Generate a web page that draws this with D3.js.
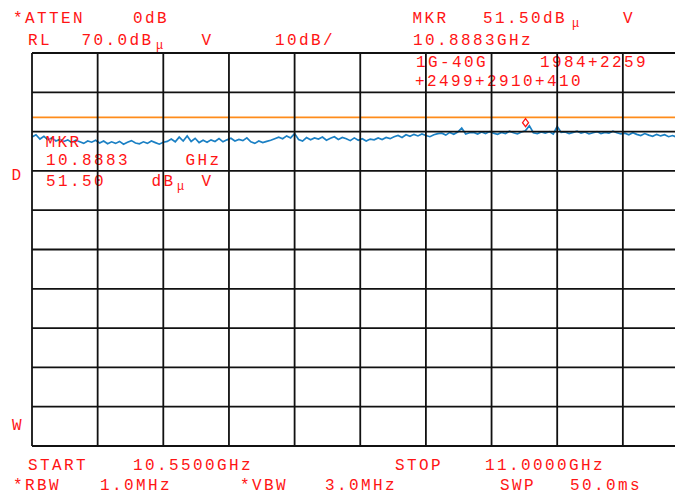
<!DOCTYPE html>
<html>
<head>
<meta charset="utf-8">
<script src="https://cdn.jsdelivr.net/npm/d3@7"></script>
<style>
  body { margin: 0; background: #fff; }
  svg text { font-family: "Liberation Mono", "DejaVu Sans Mono", monospace; font-size: 16px; letter-spacing: 2.4px; fill: #ff1414; }
</style>
</head>
<body>
<div id="chart"></div>
<script>
// sweep settings
var startGHz = 10.55;
var stopGHz = 11.0;
var refLevel = 70;      // dBuV, top of screen
var dbPerDiv = 10;
var divisions = 10;

// marker and limit line
var markerGHz = 10.8883;
var markerLevel = 51.5;
var limitLevel = 53.6;

// trace amplitude (dBuV) left to right
var trace = [
  48.6, 49.2, 48.1, 48.8, 47.9, 48.4, 47.6, 48.0, 47.5, 47.9, 47.2, 47.8, 47.4, 47.0, 47.6, 47.3, 47.8,
  47.1, 47.6, 46.9, 47.4, 47.0, 47.5, 46.8, 47.3, 47.7, 47.1, 46.9, 47.4, 47.0, 47.6, 47.2, 46.8, 47.3, 47.5,
  48.1, 47.4, 48.6, 47.6, 48.9, 47.5, 48.3, 47.2,
  47.8, 47.3, 47.9, 47.5, 48.2, 47.4, 47.9, 48.3, 47.6, 48.0, 47.7, 48.4,
  47.4, 47.0, 47.6, 47.2, 47.5, 47.8, 48.2,
  48.6, 48.2, 48.9, 48.4, 49.5, 48.0,
  47.6, 48.5, 47.9, 48.4, 48.1, 48.6, 47.8, 48.3, 48.7, 48.0, 48.5, 48.2, 47.7, 48.4,
  47.8, 48.2, 47.6, 48.1, 47.9, 48.4, 48.0, 48.5, 48.2,
  48.7, 49.0, 48.5, 49.2, 48.8, 49.3, 48.9, 49.4, 49.0, 48.7, 49.2, 49.5,
  49.6, 49.1, 49.8, 49.3, 49.9, 50.9, 49.4, 49.7,
  49.8, 49.4, 49.9, 49.5, 50.0, 49.6, 49.3, 49.8, 49.5, 50.1, 49.7, 49.4, 49.9, 50.2,
  51.5,
  49.7, 49.5, 49.9, 49.6, 50.0, 49.4, 51.3, 49.8,
  49.9, 49.5, 49.8, 50.1, 49.6, 49.9, 49.4, 49.7, 50.0, 49.5, 49.8, 49.6, 50.1, 49.7, 49.4,
  49.6, 49.2, 49.7, 49.3, 49.0, 49.5, 49.1, 48.8, 49.3, 48.9, 49.2, 48.7, 49.0, 48.6, 48.9, 48.5, 48.8
];

// screen annotations: [text, x, baseline]
var topLabels = [
  ["*ATTEN", 13, 23], ["0dB", 133, 23],
  ["RL", 28, 45], ["70.0dB", 81.5, 45], ["V", 201.5, 45], ["10dB/", 275, 45],
  ["MKR", 412.5, 23], ["51.50dB", 483, 23], ["V", 623, 23],
  ["10.8883GHz", 413, 45],
  ["1G-40G", 416, 66.5], ["1984+2259", 540, 66.5],
  ["+2499+2910+410", 415, 86]
];
var markerLabels = [
  ["MKR", 45.5, 147], ["10.8883", 46, 164.5], ["GHz", 185.5, 164.5],
  ["51.50", 46, 186], ["dB", 151.5, 186], ["V", 201.5, 186]
];
var sideLabels = [["D", 11.5, 180], ["W", 12, 430]];
var bottomLabels = [
  ["START", 28, 470], ["10.5500GHz", 133, 470], ["STOP", 395, 470], ["11.0000GHz", 485, 470],
  ["*RBW", 13, 490], ["1.0MHz", 100, 490], ["*VBW", 240, 490], ["3.0MHz", 325, 490],
  ["SWP", 500, 490], ["50.0ms", 570, 490]
];
// the little "u" of dBuV, drawn lowered after the dB
var muLabels = [["μ", 156, 49], ["μ", 572, 27], ["μ", 177, 190]];

var width = 675, height = 496;

var x = d3.scaleLinear().domain([startGHz, stopGHz]).range([32, 688.5]);
var y = d3.scaleLinear().domain([refLevel - dbPerDiv * divisions, refLevel]).range([446, 53]);

var svg = d3.select("#chart").append("svg")
  .attr("width", width)
  .attr("height", height);

svg.append("rect").attr("width", width).attr("height", height).attr("fill", "#fff");

// limit line
svg.append("line")
  .attr("x1", x(startGHz)).attr("x2", x(stopGHz))
  .attr("y1", y(limitLevel)).attr("y2", y(limitLevel))
  .attr("stroke", "#ff8c1a")
  .attr("stroke-width", 1.8);

// trace
var step = (stopGHz - startGHz) / (trace.length - 1);
var line = d3.line()
  .x(function(d, i) { return x(startGHz + i * step); })
  .y(function(d) { return y(d); });

svg.append("path")
  .datum(trace)
  .attr("d", line)
  .attr("fill", "none")
  .attr("stroke", "#1b80c4")
  .attr("stroke-width", 1.7)
  .attr("stroke-linejoin", "miter");

// marker symbol
var mx = x(markerGHz), my = y(markerLevel) - 3;
svg.append("path")
  .attr("d", "M" + mx + "," + (my - 4) + "L" + (mx + 3) + "," + my + "L" + mx + "," + (my + 4) + "L" + (mx - 3) + "," + my + "Z")
  .attr("fill", "none")
  .attr("stroke", "#ff1414")
  .attr("stroke-width", 1.3);

function addLabels(rows) {
  svg.append("g").selectAll("text")
    .data(rows)
    .enter().append("text")
    .attr("x", function(d) { return d[1]; })
    .attr("y", function(d) { return d[2]; })
    .text(function(d) { return d[0]; });
}
addLabels(topLabels);
addLabels(markerLabels);
addLabels(sideLabels);
addLabels(bottomLabels);

svg.append("g").selectAll("text")
  .data(muLabels)
  .enter().append("text")
  .attr("x", function(d) { return d[1]; })
  .attr("y", function(d) { return d[2]; })
  .style("font-size", "12px")
  .style("letter-spacing", "0px")
  .text(function(d) { return d[0]; });

// graticule on top
var grid = svg.append("g")
  .attr("stroke", "#111")
  .attr("stroke-width", 1.8);

grid.selectAll(".v")
  .data(d3.range(divisions + 1))
  .enter().append("line")
  .attr("class", "v")
  .attr("x1", function(d) { return x(startGHz + d * (stopGHz - startGHz) / divisions); })
  .attr("x2", function(d) { return x(startGHz + d * (stopGHz - startGHz) / divisions); })
  .attr("y1", y(refLevel - dbPerDiv * divisions))
  .attr("y2", y(refLevel));

grid.selectAll(".h")
  .data(d3.range(divisions + 1))
  .enter().append("line")
  .attr("class", "h")
  .attr("x1", x(startGHz))
  .attr("x2", x(stopGHz))
  .attr("y1", function(d) { return y(refLevel - d * dbPerDiv); })
  .attr("y2", function(d) { return y(refLevel - d * dbPerDiv); });
</script>
</body>
</html>
